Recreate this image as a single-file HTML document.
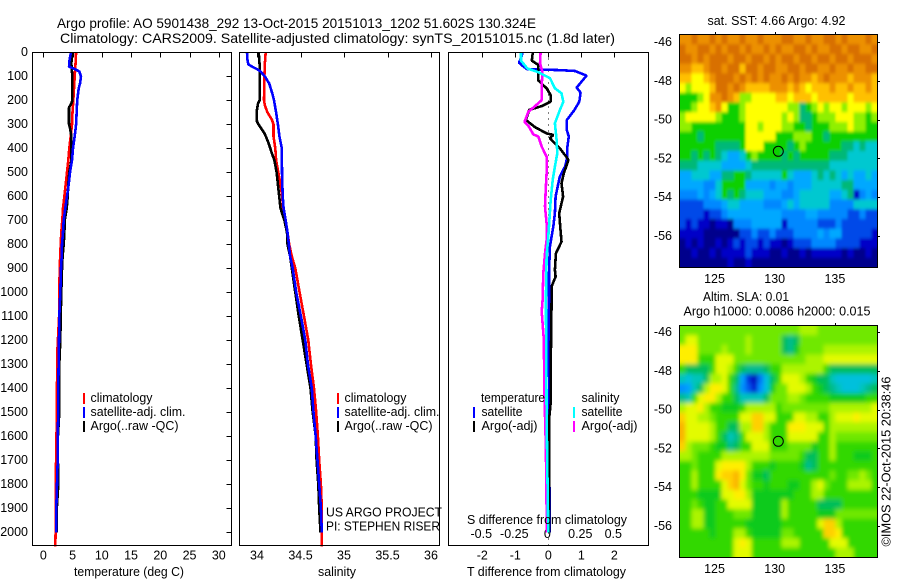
<!DOCTYPE html>
<html>
<head>
<meta charset="utf-8">
<title>Argo profile</title>
<style>
html,body{margin:0;padding:0;background:#fff;}
svg{display:block;}
text{font-family:"Liberation Sans",sans-serif;fill:#000;}
</style>
</head>
<body>
<svg id="fig" width="900" height="580" viewBox="0 0 900 580" xmlns="http://www.w3.org/2000/svg">
<rect x="0" y="0" width="900" height="580" fill="#fff"/>
<g id="map1wrap" clip-path="url(#map1clip)"><g id="map1cells" filter="url(#sstblur)"></g></g>
<g id="map2wrap" clip-path="url(#map2clip)"><g id="map2cells" filter="url(#slablur)"></g></g>
<defs>
<clipPath id="map1clip"><rect x="679.5" y="34.5" width="198" height="233"/></clipPath>
<clipPath id="map2clip"><rect x="679.5" y="325.5" width="198" height="232"/></clipPath>
<filter id="sstblur" x="-5%" y="-5%" width="110%" height="110%"><feGaussianBlur stdDeviation="1.2 1.6"/></filter>
<filter id="slablur" x="-5%" y="-5%" width="110%" height="110%"><feGaussianBlur stdDeviation="2 2.4"/></filter>
</defs>
<g id="axes"></g>
<g id="series"></g>
<rect x="32.5" y="52.5" width="199" height="493" fill="none" stroke="#000"/>
<rect x="239.5" y="52.5" width="200" height="493" fill="none" stroke="#000"/>
<rect x="448.5" y="52.5" width="200" height="493" fill="none" stroke="#000"/>
<rect x="679.5" y="34.5" width="198" height="233" fill="none" stroke="#000"/>
<rect x="679.5" y="325.5" width="198" height="232" fill="none" stroke="#000"/>

<text x="57" y="28" font-size="14" textLength="479" lengthAdjust="spacingAndGlyphs">Argo profile: AO 5901438_292 13-Oct-2015 20151013_1202 51.602S 130.324E</text>
<text x="60" y="43" font-size="14" textLength="555" lengthAdjust="spacingAndGlyphs">Climatology: CARS2009. Satellite-adjusted climatology: synTS_20151015.nc (1.8d later)</text>
<text x="74" y="576" font-size="13" textLength="110" lengthAdjust="spacingAndGlyphs">temperature (deg C)</text>
<text x="318" y="576" font-size="13" textLength="38" lengthAdjust="spacingAndGlyphs">salinity</text>
<text x="467" y="576" font-size="13" textLength="159" lengthAdjust="spacingAndGlyphs">T difference from climatology</text>
<text x="467" y="524" font-size="13" textLength="160" lengthAdjust="spacingAndGlyphs">S difference from climatology</text>

<g font-size="13">
<rect x="83" y="393" width="2" height="11" fill="#f00"/>
<rect x="83" y="407" width="2" height="11" fill="#00f"/>
<rect x="83" y="421" width="2" height="11" fill="#000"/>
<text x="90.5" y="402" textLength="62" lengthAdjust="spacingAndGlyphs">climatology</text>
<text x="90.5" y="416" textLength="95" lengthAdjust="spacingAndGlyphs">satellite-adj. clim.</text>
<text x="90.5" y="430" textLength="88" lengthAdjust="spacingAndGlyphs">Argo(..raw -QC)</text>
</g>
<g font-size="13">
<rect x="337" y="393" width="2" height="11" fill="#f00"/>
<rect x="337" y="407" width="2" height="11" fill="#00f"/>
<rect x="337" y="421" width="2" height="11" fill="#000"/>
<text x="344.5" y="402" textLength="62" lengthAdjust="spacingAndGlyphs">climatology</text>
<text x="344.5" y="416" textLength="95" lengthAdjust="spacingAndGlyphs">satellite-adj. clim.</text>
<text x="344.5" y="430" textLength="88" lengthAdjust="spacingAndGlyphs">Argo(..raw -QC)</text>
</g>
<text x="326" y="516.5" font-size="13" textLength="116" lengthAdjust="spacingAndGlyphs">US ARGO PROJECT</text>
<text x="326" y="530.5" font-size="13" textLength="114" lengthAdjust="spacingAndGlyphs">PI: STEPHEN RISER</text>
<g font-size="13">
<text x="481" y="402" textLength="64" lengthAdjust="spacingAndGlyphs">temperature</text>
<text x="581.5" y="402" textLength="38" lengthAdjust="spacingAndGlyphs">salinity</text>
<rect x="473" y="407" width="2" height="11" fill="#00f"/>
<rect x="473" y="421" width="2" height="11" fill="#000"/>
<rect x="573" y="407" width="2" height="11" fill="#0ff"/>
<rect x="573" y="421" width="2" height="11" fill="#f0f"/>
<text x="481.5" y="416" textLength="41" lengthAdjust="spacingAndGlyphs">satellite</text>
<text x="481.5" y="430" textLength="56" lengthAdjust="spacingAndGlyphs">Argo(-adj)</text>
<text x="581.5" y="416" textLength="41" lengthAdjust="spacingAndGlyphs">satellite</text>
<text x="581.5" y="430" textLength="56" lengthAdjust="spacingAndGlyphs">Argo(-adj)</text>
</g>
<text x="707.5" y="25" font-size="12.5" textLength="138" lengthAdjust="spacingAndGlyphs">sat. SST: 4.66 Argo: 4.92</text>
<text x="703" y="301" font-size="12.5" textLength="86" lengthAdjust="spacingAndGlyphs">Altim. SLA: 0.01</text>
<text x="683.5" y="315.5" font-size="12.5" textLength="187" lengthAdjust="spacingAndGlyphs">Argo h1000: 0.0086 h2000: 0.015</text>
<text transform="translate(890.5,546.5) rotate(-90)" font-size="12.5" textLength="170" lengthAdjust="spacingAndGlyphs">©IMOS 22-Oct-2015 20:38:46</text>
<circle cx="778.3" cy="151.3" r="5" fill="none" stroke="#000"/>
<circle cx="778.3" cy="441.3" r="5" fill="none" stroke="#000"/>
</svg>

<script>
// ---------- axis tick data ----------
const depthTicks = [0,100,200,300,400,500,600,700,800,900,1000,1100,1200,1300,1400,1500,1600,1700,1800,1900,2000];
const tempTicks = [0,5,10,15,20,25,30];
const salTicks = [34,34.5,35,35.5,36];
const tDiffTicks = [-2,-1,0,1,2];
const sDiffTicks = [-0.5,-0.25,0,0.25,0.5];
const lonTicks = [125,130,135];
const latTicks = [46,48,50,52,54,56];

// ---------- temperature profiles ----------
const tempClimDepth = [0,50,100,150,200,250,300,350,400,450,500,550,600,650,700,750,800,900,1000,1100,1250,1500,1600,1800,2000,2060];
const tempClim = [5.6,5.5,5.37,5.25,5.13,5,4.9,4.68,4.45,4.28,4.05,3.83,3.6,3.37,3.25,3.08,2.97,2.8,2.74,2.7,2.4,2.3,2.25,2.12,2.1,2.05];
const tempSatDepth = [0,30,60,70,80,100,130,150,200,300,350,400,450,500,550,600,650,700,750,800,850,900,1000,1100,1200,1300,1400,1500,1600,1700,1800,1900,2000];
const tempSat = [4.73,4.5,4.4,5.4,6.16,6.44,6.27,6.05,5.8,5.6,5.37,5.08,4.9,4.56,4.34,4.05,3.76,3.48,3.37,3.2,3.14,3.03,2.9,2.74,2.68,2.62,2.56,2.56,2.46,2.46,2.34,2.23,2.2];
const tempArgoDepth = [0,50,100,200,210,230,300,320,350,400,450,500,550,600,650,700,750,800,850,900,1000,1100,1200,1300,1400,1500,1600,1700,1800,1900,2000];
const tempArgo = [4.85,4.8,4.96,4.96,4.85,4.4,4.4,4.6,4.8,4.8,4.8,4.45,4.27,4.17,4,3.65,3.6,3.48,3.3,3.2,3.08,2.97,2.9,2.74,2.68,2.74,2.5,2.5,2.56,2.3,2.3];

// ---------- salinity profiles ----------
const salClimDepth = [0,50,100,200,220,250,280,300,350,400,450,500,550,600,650,700,750,800,850,900,1000,1100,1200,1300,1400,1500,1600,1700,1800,1900,2060];
const salClim = [34.1,34.09,34.085,34.08,34.09,34.12,34.17,34.19,34.19,34.21,34.22,34.245,34.27,34.29,34.3,34.33,34.35,34.37,34.4,34.44,34.49,34.54,34.59,34.62,34.655,34.68,34.7,34.715,34.735,34.745,34.745];
const salSatDepth = [0,30,50,60,70,80,100,130,170,200,250,300,350,400,500,600,650,700,750,800,850,900,1000,1100,1200,1300,1400,1500,1600,1700,1800,1900,2000];
const salSat = [33.885,33.89,33.9,33.945,34,34.04,34.09,34.14,34.175,34.195,34.22,34.24,34.257,34.285,34.287,34.295,34.306,34.33,34.35,34.365,34.38,34.41,34.45,34.505,34.555,34.585,34.63,34.65,34.675,34.695,34.715,34.735,34.745];
const salArgoDepth = [0,50,100,200,215,250,290,310,340,380,420,450,500,550,600,650,700,750,800,850,900,1000,1100,1200,1300,1400,1500,1600,1700,1800,1900,2000];
const salArgo = [34.02,34.03,34.03,34.03,34.01,33.995,34,34.035,34.09,34.135,34.17,34.2,34.225,34.24,34.255,34.27,34.315,34.345,34.35,34.38,34.4,34.44,34.48,34.525,34.57,34.615,34.64,34.675,34.685,34.705,34.715,34.73];

// ---------- difference profiles ----------
const dTSatDepth = [0,18,43,53,71,74,78,97,122,147,168,206,243,282,324,351,393,435,476,518,601,671,726,810,921,1032,1300,1600,2000];
const dTSat = [-0.78,-0.81,-0.89,-0.81,-0.64,0.35,0.81,1.16,1.01,0.86,0.98,0.94,0.78,0.56,0.56,0.62,0.58,0.58,0.51,0.35,0.22,0.2,0.15,0.05,0.02,0.02,0.02,0.03,0.04];
const dTArgoDepth = [0,35,53,118,150,178,206,224,240,282,312,338,344,358,400,438,449,504,546,601,671,740,789,838,907,935,976,1032,1250,1450,1520,2000];
const dTArgo = [-0.47,-0.5,-0.3,-0.3,-0.05,0.07,0.07,-0.2,-0.58,-0.68,-0.4,-0.05,0.15,0.05,0.35,0.56,0.61,0.47,0.4,0.45,0.33,0.37,0.4,0.23,0.2,0.22,0.1,0.1,0.08,0.08,0.03,0.03];
const dSSatDepth = [0,35,67,83,108,150,171,206,247,296,365,421,476,532,615,699,768,851,1032,1500,1700,2000];
const dSSat = [-0.207,-0.207,-0.159,-0.076,0.013,0.05,0.1,0.114,0.083,0.05,0.063,0.068,0.05,0.033,0.018,0.008,0,-0.013,-0.018,-0.013,-0.008,0];
const dSArgoDepth = [0,46,81,143,199,224,247,289,307,342,351,393,435,504,574,643,713,782,838,921,1032,1080,1200,1400,1510,1650,1900,2000];
const dSArgo = [-0.058,-0.063,-0.045,-0.05,-0.05,-0.1,-0.15,-0.18,-0.15,-0.114,-0.076,-0.05,-0.013,-0.013,-0.02,-0.025,-0.013,-0.013,-0.025,-0.038,-0.043,-0.05,-0.033,-0.03,-0.025,-0.018,-0.013,-0.013];

// ---------- map colour levels ----------
const colorStops = ["#00008c","#0000c8","#0048e8","#0088ff","#00a8ff","#00c8d0","#00b878","#10d000","#90f000","#ffff00","#ffc000","#ec9000","#d87000"];
const sstGrid = [
[11,11,12,11,11,12,11,12,11,11,12,11,11,12,11,11,11,12,12,11,11,12,11,11,12,12,11,12,11,11,11,12,11],
[12,11,11,12,12,11,12,11,12,12,11,12,11,11,12,11,12,11,11,12,12,11,12,11,11,12,12,11,12,12,11,11,12],
[12,12,11,12,11,12,12,12,11,12,12,11,12,12,11,12,11,12,12,11,12,12,11,12,12,11,12,12,11,12,12,12,11],
[11,11,10,10,11,12,12,11,12,12,10,12,12,11,12,12,11,11,12,12,11,12,12,11,11,12,11,11,12,11,11,12,12],
[10,10,9,9,10,11,12,12,12,11,12,11,12,11,12,11,11,12,11,12,11,11,10,11,12,11,11,11,10,11,11,11,10],
[9,8,9,9,9,10,12,12,11,12,11,10,10,10,10,11,11,11,10,11,10,9,10,10,10,11,10,10,11,10,10,11,10],
[7,7,7,8,9,11,11,12,11,10,8,8,9,9,9,9,10,10,9,10,10,10,9,10,10,10,10,10,9,10,10,10,10],
[7,7,8,9,9,10,11,9,7,7,8,9,9,9,9,9,9,9,8,8,6,7,8,9,8,9,9,8,9,9,9,8,9],
[8,9,9,9,9,9,8,7,7,7,8,9,9,9,9,9,9,8,9,8,6,6,7,8,8,8,9,9,9,8,8,7,8],
[8,8,7,7,7,7,7,7,7,7,7,9,9,8,9,9,9,8,8,7,7,6,7,7,7,8,8,8,9,8,8,7,7],
[7,7,7,6,7,7,7,7,7,7,7,9,9,9,9,9,7,7,7,8,8,8,7,7,6,7,7,7,7,7,7,7,7],
[7,7,7,7,7,7,6,6,6,6,7,9,9,9,7,7,7,7,6,7,8,7,7,7,7,7,7,6,6,5,6,5,5],
[7,7,6,7,6,7,6,5,4,4,5,7,8,7,7,7,7,6,7,6,7,7,7,7,7,6,6,6,5,5,5,5,5],
[6,6,6,5,5,5,5,4,4,4,4,5,6,6,6,6,6,6,6,6,6,6,6,6,6,5,5,5,5,5,5,5,5],
[4,4,5,5,5,4,4,6,6,7,7,6,5,5,5,5,5,7,5,4,4,4,5,6,5,6,5,4,5,4,4,5,4],
[4,4,4,4,3,3,5,7,7,7,7,4,4,4,4,3,4,4,3,4,4,4,5,5,5,5,5,6,6,4,4,4,4],
[3,3,3,4,3,4,5,7,6,7,6,5,5,5,4,4,4,3,3,4,5,5,5,5,5,4,4,5,6,1,3,4,3],
[2,2,2,2,3,3,3,4,5,5,4,4,4,4,3,3,3,4,5,4,5,5,5,5,5,3,3,3,3,5,5,5,5],
[2,2,2,2,1,2,2,3,4,4,4,4,4,4,4,4,4,3,3,3,3,4,4,3,3,3,3,3,2,2,3,2,2],
[2,1,2,1,1,0,1,1,0,3,3,3,4,4,4,4,4,1,3,3,3,3,3,2,2,2,3,2,2,2,2,2,2],
[1,1,1,1,0,0,0,0,0,0,2,2,3,2,2,3,2,2,2,3,3,3,3,4,3,4,4,2,2,2,2,2,1],
[0,1,0,1,0,0,1,0,1,2,1,2,2,1,2,1,1,0,1,2,2,2,3,3,3,3,2,2,2,2,1,1,1],
[0,0,1,0,0,1,0,1,1,1,1,2,1,1,1,0,0,1,0,0,1,0,1,1,1,1,1,0,1,0,0,1,0],
[0,0,0,0,0,0,0,0,1,0,0,1,0,0,0,0,0,0,0,0,0,0,0,0,0,0,0,0,0,0,0,0,0]
];
const slaGrid = [
[7.5,7.5,7.5,7.5,7.5,7.5,7.5,7.5,7.5,7.5,7.5,7.5,7.5,7.5,7.5,7.5,7.5,7.5,7.5,7.5,8,8,8,7.5,7.5,7.5,7.5,7.5,7.5,7.5,7.5,7.5,7.5],
[7.5,8.5,8.5,7.5,7.5,7.5,7.5,7.5,7.5,7.5,7.5,8,7.5,7.5,7.5,7.5,7.5,6,5.5,6,7.5,7.5,7.5,7.5,7.5,7.5,7.5,7.5,7.5,7.5,7.5,7.5,7.5],
[9,9,9,7.5,7.5,7.5,7.5,8,7.5,7.5,7.5,8,7.5,7.5,7.5,7.5,7.5,6,5.5,6.5,7.5,7.5,7.5,7.5,8,8,8,8,8,8,8,8,8],
[9,9,9,7,7,7,8.5,8.5,8.5,7.5,7.5,7.5,7.5,7.5,7.5,7.5,7.5,7.5,7.5,7.5,7.5,8,8,8,8.5,8.5,8.5,8.5,8.5,8.5,8.5,8.5,8.5],
[7,6,6,6,6,7,8.5,8.5,8,7,6,5.5,5.5,5.5,6,7,7,8,8,8,8,8,8,8,7,6,6,6,6,6,6,6,6],
[5,4.5,5,5,6,8,8,8.5,7,6,3.5,1.5,0.5,2.5,4.5,6,7,8.5,8.5,8.5,8,7,6.5,6,6,5,4.5,4.5,4.5,4.5,4.5,4.5,5],
[3,3.5,5,6,8,9,9,8.5,7,5.5,3,2,1,3,4.5,6.5,7.5,7.5,8.5,8.5,8.5,8,7,6.5,6,5.5,5,4.5,4.5,4.5,5,5.5,6],
[5.5,5,7,8.5,9,9,8,7,7,6,5,5,5,5,6,7.5,7.5,7.5,8,8,7.5,7,7,7,7,6.5,6.5,6.5,6.5,6.5,6.5,7,7],
[8,8.5,8.5,9,8,7,7,6.5,6.5,6.5,7,8,8,8,8,8,7,7.5,7.5,7.5,7.5,7.5,7.5,7.5,7.5,8,8,8,8,8,8,8,8.5],
[9.5,8.5,8.5,8,8,7.5,7,7,7,7,8.5,8.5,9.5,9.5,8.5,8.5,7,7,7,8.5,8.5,8,8,7,7,8,8.5,8.5,8.5,9,8.5,8.5,8.5],
[10,8.5,8.5,8.5,8.5,8,7,7,6,6,8,8,9.5,9.5,8,7,7,7,9,9,9,8.5,8.5,8.5,7,8,8,8,8,8,8,8,8],
[10,8.5,8.5,8.5,8.5,8,7,6,5,5.5,7,8.5,8.5,8.5,8,7,7,7,8.5,8.5,8.5,8.5,8.5,7,7,8,7.5,7.5,7.5,7.5,7.5,7.5,7.5],
[9.5,8,7.5,7.5,7.5,7,6.5,6.5,5.5,6,7,7,8.5,8.5,8.5,7,7,7,7.5,7.5,7.5,7.5,6.5,7,7,8,7,7,7,7,7,7,7],
[8,8,7.5,7,7,7,7,8,8,8,8,8,8,8,8,7.5,7.5,7.5,7.5,7.5,7,6,6,7,7,8,7,7,7,6.5,6.5,6.5,7],
[7,7,7.5,7,7,7,8.5,9,9,9,9,8,7,7,7,6.5,7,7,7,7,6.5,5.5,6,7,7,7,7,7,7,7,7,7,7],
[7,7,8,7,7,7,9,9.5,9.5,10,9,7.5,6.5,6.5,6,7,7,7,7,7,7,7,7,7,7,7.5,7,7,7.5,7.5,8,7.5,7],
[7,7,8,7,7,7,7,8.5,9.5,10,8.5,7.5,7,7,6.5,7,7,7,6.5,6.5,7,7,8,8.5,7.5,7,7,7,8,8,8,8,7],
[7,7,7,6.5,6.5,6.5,6.5,8.5,8.5,9,9,8,6.5,6.5,6.5,6.5,6.5,6.5,6.5,7,7,7,8,8,7,7,7,7,7,7,7,7,7],
[7,7,7.5,7,6.5,6.5,7,7,8.5,8.5,8.5,8.5,6.5,6.5,6.5,6.5,6.5,8,7,7,7,7,7,6,6,6,6,7,7,7,7,7,7],
[7,7,8,8,6.5,6.5,7,7,7,7.5,7.5,7.5,6.5,6.5,6.5,6.5,6.5,8,7,7,7,7,7,6.5,6.5,6.5,7.5,7.5,7.5,7.5,7.5,7.5,7.5],
[7,7,8,8,6.5,6.5,7,7,7,7,7,6.5,6.5,6.5,6.5,6.5,6.5,7,7,7,7,7,7,8.5,9.5,9.5,8,7,7,7,7,7,7],
[7,7,7,7,7,6.5,7,7,7,8,8,7,6.5,6.5,6.5,6.5,6.5,7.5,7.5,7,7,7,7,7,9.5,9.5,9,7,7,7,7,7,7],
[7,7,7,7,7,7,7,7,7,8.5,9,8.5,7,7,7,7,7,8,8,8,7,7,7,7,7,8.5,8.5,8.5,7,7,7,7,7],
[7,7,7,7,7,7,7,7,7,8.5,8.5,8.5,7,7,7,7,7,7,7,7,7,7,7,7,7,7,8,8,8,7,7,7,7]
];

// ---------- helpers ----------
const NS = "http://www.w3.org/2000/svg";
const axesLayer = document.getElementById("axes");
const seriesLayer = document.getElementById("series");

function yDepth(d){ return 52.3 + 0.24 * d; }
function xTemp(t){ return 43.3 + 5.85 * t; }
function xSal(s){ return 257 + 87 * (s - 34); }
function xTDiff(t){ return 548.3 + 33 * t; }
function xSDiff(s){ return 548.3 + 132 * s; }
function xLon(lon){ return 774.7 + 12.04 * (lon - 130); }
function yLat1(lat){ return 42 + 19.4 * (lat - 46); }
function yLat2(lat){ return 332 + 19.4 * (lat - 46); }

function hex(c){ return [parseInt(c.substr(1,2),16),parseInt(c.substr(3,2),16),parseInt(c.substr(5,2),16)]; }
function levelColor(v){
  const lo = Math.max(0, Math.min(colorStops.length - 1, Math.floor(v)));
  const hi = Math.min(colorStops.length - 1, lo + 1);
  const f = Math.max(0, Math.min(1, v - lo));
  const a = hex(colorStops[lo]), b = hex(colorStops[hi]);
  return "rgb(" + a.map(function(x,i){ return Math.round(x + (b[i] - x) * f); }).join(",") + ")";
}
function addLine(parent, x1, y1, x2, y2){
  const l = document.createElementNS(NS, "line");
  l.setAttribute("x1", x1); l.setAttribute("y1", y1);
  l.setAttribute("x2", x2); l.setAttribute("y2", y2);
  l.setAttribute("stroke", "#000");
  l.setAttribute("shape-rendering", "crispEdges");
  parent.appendChild(l);
  return l;
}
function addText(parent, x, y, str, anchor, size){
  const t = document.createElementNS(NS, "text");
  t.setAttribute("x", x); t.setAttribute("y", y);
  t.setAttribute("text-anchor", anchor);
  t.setAttribute("font-size", size);
  t.textContent = str;
  parent.appendChild(t);
  return t;
}
function profile(name, color, depths, vals, xf, width){
  const p = document.createElementNS(NS, "polyline");
  
  
  p.setAttribute("points", vals.map(function(v,i){ return xf(v).toFixed(1) + "," + yDepth(depths[i]).toFixed(1); }).join(" "));
  p.setAttribute("fill", "none");
  p.setAttribute("stroke", color);
  p.setAttribute("stroke-width", width);
  p.setAttribute("stroke-linejoin", "bevel");
  p.setAttribute("shape-rendering", "crispEdges");
  seriesLayer.appendChild(p);
}

// ---------- heatmaps ----------
function drawGrid(groupId, grid, x0, y0, cw, ch, shift){
  const g = document.getElementById(groupId);
  grid.forEach(function(row, r){
    row.forEach(function(v, c){
      const cell = document.createElementNS(NS, "rect");
      
      
      cell.setAttribute("x", x0 + c * cw - (c === 0 ? 8 : 0));
      cell.setAttribute("y", y0 + r * ch - (r === 0 ? 8 : 0));
      cell.setAttribute("width", cw + 0.4 + ((c === 0 || c === row.length - 1) ? 8 : 0));
      cell.setAttribute("height", ch + 0.4 + ((r === 0 || r === grid.length - 1) ? 8 : 0));
      cell.setAttribute("fill", levelColor(v + shift));
      g.appendChild(cell);
    });
  });
}
drawGrid("map1cells", sstGrid, 679.5, 34.5, 6, 233 / 24, 0);
drawGrid("map2cells", slaGrid, 679.5, 325.5, 6, 232 / 24, 0.25);

// ---------- axes ----------
depthTicks.forEach(function(d){
  const y = Math.round(yDepth(d)) + 0.5;
  const tick = addLine(axesLayer, 226.5, y, 231.5, y);
  
  
  const label = addText(axesLayer, 28, yDepth(d) + 3.5, String(d), "end", 12.5);
  
  
});
tempTicks.forEach(function(v){
  const x = Math.round(xTemp(v)) + 0.5;
  const tick = addLine(axesLayer, x, 52.5, x, 57.5);
  
  
  const label = addText(axesLayer, xTemp(v), 559.5, String(v), "middle", 12.5);
  
  
});
salTicks.forEach(function(v){
  const x = Math.round(xSal(v)) + 0.5;
  const tick = addLine(axesLayer, x, 52.5, x, 57.5);
  
  
  const label = addText(axesLayer, xSal(v), 559.5, String(v), "middle", 12.5);
  
  
});
tDiffTicks.forEach(function(v){
  const x = Math.round(xTDiff(v)) + 0.5;
  const tick = addLine(axesLayer, x, 52.5, x, 57.5);
  
  
  const label = addText(axesLayer, xTDiff(v), 559.5, String(v), "middle", 12.5);
  
  
});
sDiffTicks.forEach(function(v){
  const label = addText(axesLayer, xSDiff(v) - 1, 538, String(v), "middle", 12.5);
  
  
});
const zeroLine = addLine(axesLayer, 548.5, 52.5, 548.5, 545.5);


zeroLine.setAttribute("stroke-dasharray", "1 5");

[[34.5, 283, yLat1], [325.5, 573, yLat2]].forEach(function(cfg){
  const top = cfg[0], base = cfg[1], yf = cfg[2];
  lonTicks.forEach(function(v){
    const x = Math.round(xLon(v)) + 0.5;
    const tick = addLine(axesLayer, x, top - 2.5, x, top);
    
    
    const label = addText(axesLayer, xLon(v), base, String(v), "middle", 12.5);
    
    
  });
  latTicks.forEach(function(v){
    const y = Math.round(yf(v)) + 0.5;
    const tick = addLine(axesLayer, 877.5, y, 880, y);
    
    
    const label = addText(axesLayer, 672, yf(v) + 4, "-" + v, "end", 12.5);
    
    
  });
});

// ---------- series ----------
profile("temperature-climatology-line", "#f00", tempClimDepth, tempClim, xTemp, 2.6);
profile("temperature-argo-line", "#000", tempArgoDepth, tempArgo, xTemp, 2.6);
profile("temperature-satellite-line", "#00f", tempSatDepth, tempSat, xTemp, 2.6);
profile("salinity-climatology-line", "#f00", salClimDepth, salClim, xSal, 2.6);
profile("salinity-argo-line", "#000", salArgoDepth, salArgo, xSal, 2.6);
profile("salinity-satellite-line", "#00f", salSatDepth, salSat, xSal, 2.6);
profile("t-difference-satellite-line", "#00f", dTSatDepth, dTSat, xTDiff, 2.6);
profile("t-difference-argo-line", "#000", dTArgoDepth, dTArgo, xTDiff, 2.6);
profile("s-difference-argo-line", "#f0f", dSArgoDepth, dSArgo, xSDiff, 2.6);
profile("s-difference-satellite-line", "#0ff", dSSatDepth, dSSat, xSDiff, 2.6);
</script>
</body>
</html>
